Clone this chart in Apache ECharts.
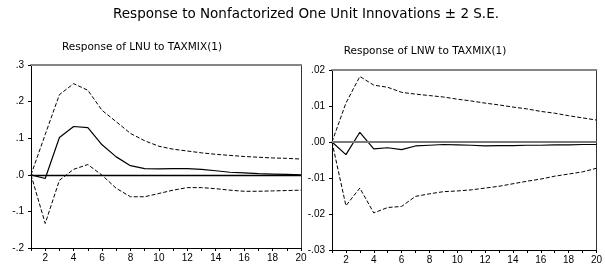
<!DOCTYPE html>
<html>
<head>
<meta charset="utf-8">
<script src="https://cdn.jsdelivr.net/npm/echarts@6/dist/echarts.min.js"></script>
<style>
    html, body { margin: 0; padding: 0; background: #fff; }
    #irf_chart { width: 605px; height: 265px; }
</style>
</head>
<body>
<div id="irf_chart"></div>
<script>

// Chart data
// ------------------------------

var periods = ['1', '2', '3', '4', '5', '6', '7', '8', '9', '10',
    '11', '12', '13', '14', '15', '16', '17', '18', '19', '20'];

// Response of LNU to TAXMIX(1)
var lnuResponse = [0, -0.010, 0.102, 0.132, 0.129, 0.082, 0.049, 0.025, 0.017, 0.016,
    0.017, 0.017, 0.015, 0.011, 0.007, 0.005, 0.003, 0.002, 0.001, 0.000];
var lnuUpper = [0, 0.110, 0.219, 0.249, 0.231, 0.176, 0.145, 0.113, 0.093, 0.078,
    0.070, 0.065, 0.060, 0.056, 0.053, 0.050, 0.048, 0.046, 0.045, 0.043];
var lnuLower = [0, -0.133, -0.015, 0.015, 0.028, -0.001, -0.037, -0.060, -0.060, -0.051,
    -0.042, -0.035, -0.035, -0.038, -0.042, -0.045, -0.045, -0.044, -0.043, -0.042];

// Response of LNW to TAXMIX(1)
var lnwResponse = [0, -0.0035, 0.0027, -0.0019, -0.0016, -0.0021, -0.0011, -0.0009, -0.0007, -0.0008,
    -0.0009, -0.0011, -0.0010, -0.0010, -0.0009, -0.0009, -0.0008, -0.0008, -0.0007, -0.0007];
var lnwUpper = [0, 0.0108, 0.0182, 0.0158, 0.0152, 0.0138, 0.0133, 0.0129, 0.0125, 0.0119,
    0.0114, 0.0108, 0.0103, 0.0097, 0.0092, 0.0085, 0.0080, 0.0073, 0.0067, 0.0061];
var lnwLower = [0, -0.0177, -0.0128, -0.0197, -0.0182, -0.0179, -0.0151, -0.0144, -0.0138, -0.0136,
    -0.0133, -0.0128, -0.0123, -0.0116, -0.0109, -0.0103, -0.0095, -0.0089, -0.0083, -0.0073];

// Axis ranges: min, max, step
var lnuTicks = [-0.2, 0.3, 0.1];
var lnwTicks = [-0.03, 0.02, 0.01];

var mainTitle = 'Response to Nonfactorized One Unit Innovations \u00b1 2 S.E.';
var panelTitles = ['Response of LNU to TAXMIX(1)', 'Response of LNW to TAXMIX(1)'];


// Setup module
// ------------------------------

var EviewsImpulseResponse = function() {

    var fontFamily = '"Liberation Sans", Arial, sans-serif';
    var titleFont = '"DejaVu Sans", Verdana, sans-serif';

    // EViews style labels: .3, -.1, .00
    var decimalLabel = function(digits) {
        return function(value) {
            return value.toFixed(digits).replace('0.', '.');
        };
    };

    var bottomAxis = function(gridIndex) {
        return {
            type: 'category',
            gridIndex: gridIndex,
            boundaryGap: false,
            data: periods,
            axisLine: { onZero: false, lineStyle: { color: '#000', width: 1 } },
            axisTick: { show: true, interval: 0, length: 3, lineStyle: { color: '#000' } },
            axisLabel: {
                interval: function(index) { return index % 2 === 1; },
                margin: 5,
                color: '#000',
                fontFamily: fontFamily,
                fontSize: 10
            },
            splitLine: { show: false }
        };
    };

    // grey frame line on top
    var topAxis = function(gridIndex) {
        return {
            type: 'category',
            gridIndex: gridIndex,
            position: 'top',
            boundaryGap: false,
            data: periods,
            axisLine: { onZero: false, lineStyle: { color: '#858585', width: 2 } },
            axisTick: { show: false },
            axisLabel: { show: false },
            splitLine: { show: false }
        };
    };

    var leftAxis = function(gridIndex, ticks, digits) {
        return {
            type: 'value',
            gridIndex: gridIndex,
            min: ticks[0],
            max: ticks[1],
            interval: ticks[2],
            axisLine: { show: true, onZero: false, lineStyle: { color: '#000', width: 1 } },
            axisTick: { show: true, length: 3, lineStyle: { color: '#000' } },
            axisLabel: {
                margin: 7,
                color: '#000',
                fontFamily: fontFamily,
                fontSize: 10,
                formatter: decimalLabel(digits)
            },
            splitLine: { show: false }
        };
    };

    var rightAxis = function(gridIndex, ticks) {
        return {
            type: 'value',
            gridIndex: gridIndex,
            position: 'right',
            min: ticks[0],
            max: ticks[1],
            interval: ticks[2],
            axisLine: { show: true, onZero: false, lineStyle: { color: '#333', width: 1 } },
            axisTick: { show: false },
            axisLabel: { show: false },
            splitLine: { show: false }
        };
    };

    var lineSeries = function(axisIndex, data, dashed, zeroColor) {
        var s = {
            type: 'line',
            xAxisIndex: axisIndex,
            yAxisIndex: axisIndex,
            data: data,
            symbol: 'none',
            silent: true,
            lineStyle: {
                color: '#000',
                width: dashed ? 1 : 1.2,
                type: dashed ? [4, 2] : 'solid'
            }
        };
        if (zeroColor) {
            s.markLine = {
                silent: true,
                symbol: 'none',
                label: { show: false },
                lineStyle: { color: zeroColor, width: zeroColor === '#000' ? 1.3 : 2, type: 'solid' },
                data: [{ yAxis: 0 }]
            };
        }
        return s;
    };

    var _impulseResponseChart = function() {
        if (typeof echarts == 'undefined') {
            console.warn('Warning - echarts.min.js is not loaded.');
            return;
        }

        var chart_element = document.getElementById('irf_chart');
        if (!chart_element) {
            return;
        }

        var chart = echarts.init(chart_element, null, { renderer: 'canvas' });

        chart.setOption({
            animation: false,
            backgroundColor: '#fff',
            textStyle: { fontFamily: fontFamily },

            grid: [
                { left: 31, top: 65, width: 270, height: 183 },
                { left: 332, top: 70, width: 270, height: 182 }
            ],

            // Titles
            graphic: [
                {
                    type: 'text', x: 306, y: 14,
                    style: { text: mainTitle, align: 'center', verticalAlign: 'middle',
                        font: '13.5px ' + titleFont, fill: '#000' }
                },
                {
                    type: 'text', x: 142, y: 47.5,
                    style: { text: panelTitles[0], align: 'center', verticalAlign: 'middle',
                        font: '10.5px ' + titleFont, fill: '#000' }
                },
                {
                    type: 'text', x: 425, y: 51,
                    style: { text: panelTitles[1], align: 'center', verticalAlign: 'middle',
                        font: '10.5px ' + titleFont, fill: '#000' }
                }
            ],

            xAxis: [bottomAxis(0), bottomAxis(1), topAxis(0), topAxis(1)],
            yAxis: [leftAxis(0, lnuTicks, 1), leftAxis(1, lnwTicks, 2), rightAxis(0, lnuTicks), rightAxis(1, lnwTicks)],

            series: [
                lineSeries(0, lnuResponse, false, '#000'),
                lineSeries(0, lnuUpper, true),
                lineSeries(0, lnuLower, true),
                lineSeries(1, lnwResponse, false, '#7a7a7a'),
                lineSeries(1, lnwUpper, true),
                lineSeries(1, lnwLower, true)
            ]
        });
    };

    return {
        init: function() {
            _impulseResponseChart();
        }
    };
}();

document.addEventListener('DOMContentLoaded', function() {
    EviewsImpulseResponse.init();
});
</script>
</body>
</html>
